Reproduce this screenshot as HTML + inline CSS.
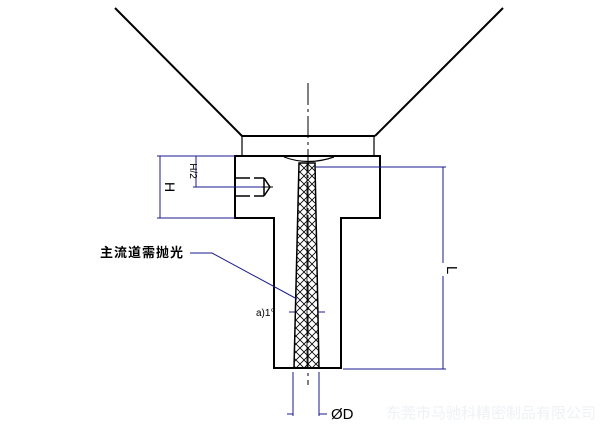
<!DOCTYPE html>
<html><head><meta charset="utf-8"><style>
html,body{margin:0;padding:0;background:#fff;width:600px;height:428px;overflow:hidden}
svg{display:block}
text{font-family:"Liberation Sans","Noto Sans CJK SC",sans-serif}
</style></head><body>
<svg width="600" height="428" viewBox="0 0 600 428" xmlns="http://www.w3.org/2000/svg">
<defs>
<pattern id="hx" width="8" height="8" patternUnits="userSpaceOnUse">
<path d="M0 0L8 8M8 0L0 8" stroke="#000" stroke-width="0.8"/>
</pattern>
</defs>
<g stroke="#000" fill="none" stroke-width="2">
<line x1="115" y1="8" x2="242" y2="136"/>
<line x1="503" y1="8" x2="375" y2="136"/>
<line x1="242" y1="136" x2="375" y2="136"/>
</g>
<g stroke="#000" fill="none" stroke-width="1.2">
<line x1="242" y1="136" x2="242" y2="156"/>
<line x1="374" y1="136" x2="374" y2="156"/>
</g>
<!-- body -->
<path d="M235 156H380V218H341V368H274V218H235Z" fill="none" stroke="#000" stroke-width="2"/>
<path d="M284 157Q308 166 334 157" stroke="#000" fill="none" stroke-width="1.2"/>
<!-- channel -->
<path d="M299 163L315 163L319 368L294 368Z" fill="url(#hx)" stroke="#000" stroke-width="1.5"/>
<line x1="307" y1="163" x2="307" y2="368" stroke="#000" stroke-width="0.8"/>
<!-- centerline -->
<path d="M308 83V385" stroke="#000" stroke-width="1" stroke-dasharray="22,4,3,4"/>
<!-- bolt -->
<g stroke="#000" stroke-width="1.5" fill="none">
<path d="M235 178H250M235 196H250M254 178H264M254 196H264M264 178L270 187L264 196M264 178V196"/>
</g>
<line x1="262" y1="187" x2="273" y2="187" stroke="#000" stroke-width="1"/>
<!-- dims blue -->
<g stroke="#1a1a8c" stroke-width="1" fill="none">
<line x1="157" y1="156" x2="235" y2="156"/>
<line x1="157" y1="218" x2="235" y2="218"/>
<line x1="160" y1="156" x2="160" y2="218"/>
<line x1="196" y1="156" x2="196" y2="187"/>
<line x1="193" y1="187" x2="262" y2="187"/>
<line x1="316" y1="167" x2="446" y2="167"/>
<line x1="343" y1="369" x2="446" y2="369"/>
<line x1="443" y1="167" x2="443" y2="263"/>
<line x1="443" y1="276" x2="443" y2="369"/>
<path d="M190 253H212L297 299"/>
<line x1="293" y1="372" x2="293" y2="416"/>
<line x1="319" y1="372" x2="319" y2="416"/>
<line x1="287" y1="414" x2="293" y2="414"/>
<line x1="319" y1="414" x2="327" y2="414"/>
<line x1="289" y1="312" x2="295" y2="312"/>
<line x1="318" y1="312" x2="325" y2="312"/>
</g>
<g fill="#000">
<text x="165" y="187" font-size="14" transform="rotate(90 165 187)" text-anchor="middle">H</text>
<text x="190" y="171" font-size="10" transform="rotate(90 190 171)" text-anchor="middle" font-family="Liberation Serif">H/2</text>
<text x="447" y="270" font-size="15" transform="rotate(90 447 270)" text-anchor="middle">L</text>
<text x="100" y="257" font-size="13" font-weight="bold" letter-spacing="1">主流道需抛光</text>
<text x="256" y="316" font-size="10">a)1°</text>
<text x="331" y="419" font-size="15">ØD</text>
</g>
<text x="386" y="418" font-size="15" fill="#eef2f4">东莞市马驰科精密制品有限公司</text>
</svg>
</body></html>
